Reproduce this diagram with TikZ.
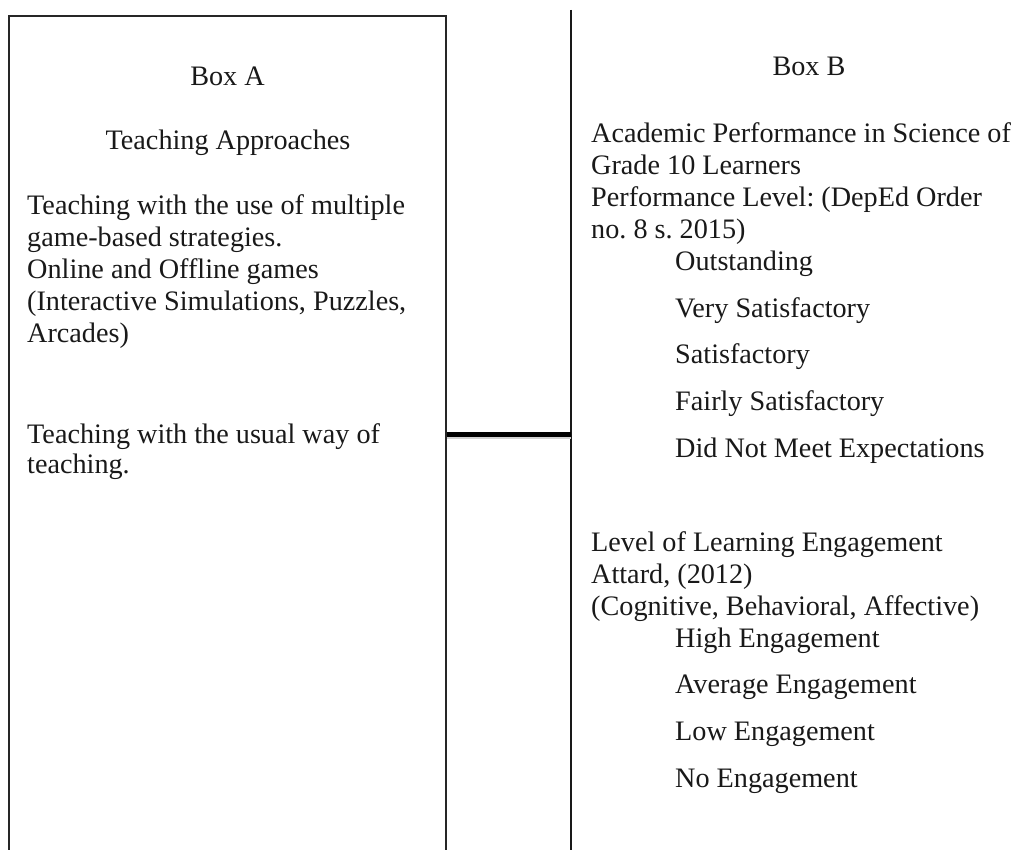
\documentclass[tikz,border=0pt]{standalone}
\usepackage{fontspec}
\setmainfont{Liberation Serif}
\frenchspacing
\begin{document}
\begin{tikzpicture}[x=1pt,y=-1pt,
  txt/.style={anchor=base west, inner sep=0pt, font=\fontsize{28.2}{32}\selectfont, text=black!90},
  ctxt/.style={txt, anchor=base},
  frame/.style={draw=black!85, line width=1.4pt, rectangle, inner sep=0pt},
  region/.style={rectangle, inner sep=0pt},
  sideline/.style={draw=black!90, line width=1.9pt},
  link/.style={line width=5.5pt, draw=black}
]
\clip (0,0) rectangle (1024,849);
\fill[white] (0,0) rectangle (1024,849);
% boxes
\node[frame, minimum width=437pt, minimum height=837pt] (boxA) at (227.5,434.5) {};
\node[region, minimum width=476pt, minimum height=849pt] (boxB) at (809,434.5) {};
\draw[sideline] (boxB.north west) -- (boxB.south west);
% connector with soft shadow
\draw[line width=3pt, draw=black!18] ([yshift=-3pt]boxA.east) -- ([yshift=-3pt]boxB.west);
\draw[link] (boxA.east) -- (boxB.west);
% Box A text
\node[ctxt] (a0) at (227.5,85) {Box A};
\node[ctxt] (a1) at (228,149) {Teaching Approaches};
\node[txt] (a2) at (27,214) {Teaching with the use of multiple};
\node[txt] (a3) at (27,246.2) {game-based strategies.};
\node[txt] (a4) at (27,278.4) {Online and Offline games};
\node[txt] (a5) at (27,310.6) {(Interactive Simulations, Puzzles,};
\node[txt] (a6) at (27,342.8) {Arcades)};
\node[txt] (a7) at (27,443) {Teaching with the usual way of};
\node[txt] (a8) at (27,473) {teaching.};
% Box B text
\node[ctxt] (b0) at (809,75) {Box B};
\node[txt] (b1) at (591,142) {Academic Performance in Science of};
\node[txt] (b2) at (591,174) {Grade 10 Learners};
\node[txt] (b3) at (591,206) {Performance Level: (DepEd Order};
\node[txt] (b4) at (591,238) {no. 8 s. 2015)};
\node[txt] (b5) at (675,270) {Outstanding};
\node[txt] (b6) at (675,317) {Very Satisfactory};
\node[txt] (b7) at (675,363.6) {Satisfactory};
\node[txt] (b8) at (675,410.4) {Fairly Satisfactory};
\node[txt] (b9) at (675,457.2) {Did Not Meet Expectations};
\node[txt] (c1) at (591,551) {Level of Learning Engagement};
\node[txt] (c2) at (591,583) {Attard, (2012)};
\node[txt] (c3) at (591,615) {(Cognitive, Behavioral, Affective)};
\node[txt] (c4) at (675,647) {High Engagement};
\node[txt] (c5) at (675,693) {Average Engagement};
\node[txt] (c6) at (675,740) {Low Engagement};
\node[txt] (c7) at (675,787) {No Engagement};
\end{tikzpicture}
\end{document}
